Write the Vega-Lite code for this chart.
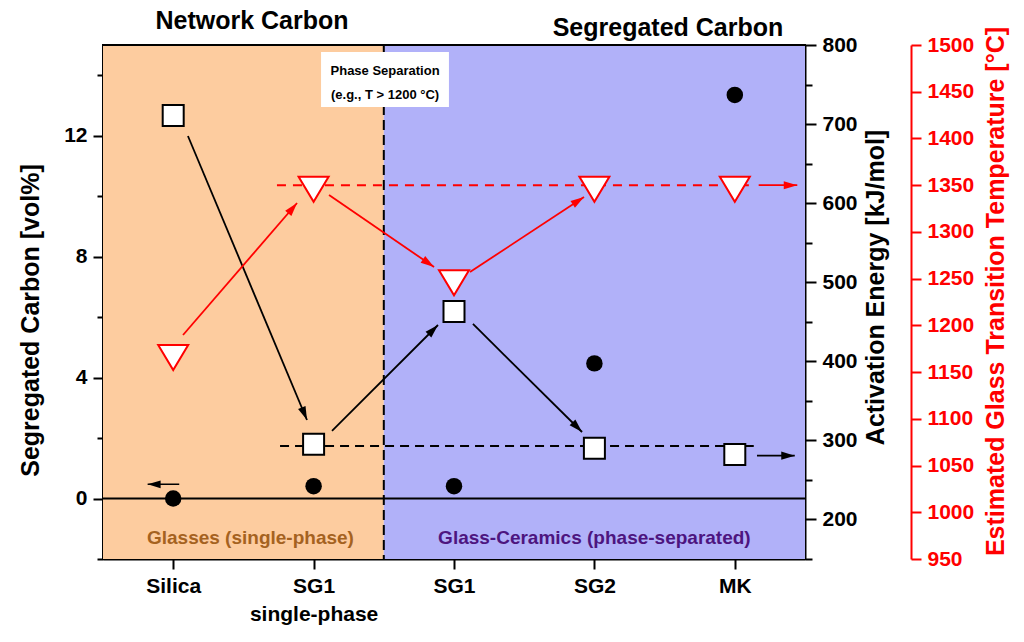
{
  "$schema": "https://vega.github.io/schema/vega-lite/v6.json",
  "autosize": "none",
  "width": 702,
  "height": 514,
  "padding": {"left": 103, "top": 45, "right": 219, "bottom": 83},
  "background": "white",
  "datasets": {
    "samples": [
      {"x": 0, "carbon": 0, "energy": 711, "tg": 1170},
      {"x": 1, "carbon": 0.41, "energy": 295, "tg": 1350},
      {"x": 2, "carbon": 0.41, "energy": 463, "tg": 1250},
      {"x": 3, "carbon": 4.47, "energy": 290, "tg": 1350},
      {"x": 4, "carbon": 13.35, "energy": 282, "tg": 1350}
    ]
  },
  "layer": [
    {
      "layer": [
        {
          "data": {"values": [
            {"x": -0.5, "x2": 1.5, "phase": "glass"},
            {"x": 1.5, "x2": 4.5, "phase": "ceramic"}
          ]},
          "mark": {"type": "rect", "opacity": 1},
          "encoding": {
            "x": {
              "field": "x", "type": "quantitative",
              "scale": {"domain": [-0.5, 4.5], "nice": false, "zero": false},
              "axis": {
                "title": null,
                "values": [0, 1, 2, 3, 4],
                "labelExpr": "datum.value === 0 ? 'Silica' : datum.value === 1 ? ['SG1', 'single-phase'] : datum.value === 2 ? 'SG1' : datum.value === 3 ? 'SG2' : 'MK'",
                "labelOverlap": false,
                "tickSize": 10,
                "labelPadding": 6,
                "labelLineHeight": 28
              }
            },
            "x2": {"field": "x2"},
            "color": {
              "field": "phase", "type": "nominal",
              "scale": {"domain": ["glass", "ceramic"], "range": ["#FDCC9F", "#B1B1F9"]},
              "legend": null
            }
          }
        },
        {
          "data": {"values": [{"x": 1.5}]},
          "mark": {"type": "rule", "color": "black", "strokeWidth": 2, "strokeDash": [10, 5]},
          "encoding": {"x": {"field": "x", "type": "quantitative"}}
        },
        {
          "data": {"values": [{"v": 0}, {"v": 15}]},
          "mark": {"type": "rule", "color": "black", "strokeWidth": 2},
          "encoding": {
            "y": {
              "field": "v", "type": "quantitative",
              "scale": {"domain": [-2, 15], "nice": false, "zero": false},
              "axis": {
                "orient": "left",
                "title": "Segregated Carbon [vol%]",
                "values": [-2, 0, 2, 4, 6, 8, 10, 12, 14],
                "labelExpr": "datum.value % 4 === 0 ? datum.label : ''",
                "labelOverlap": false,
                "tickSize": {"condition": {"test": "datum.value % 4 === 0", "value": 10}, "value": 6},
                "labelPadding": 6,
                "titlePadding": 20,
                "titleY": 275
              }
            }
          }
        },
        {
          "data": {"values": [{"x": 1.053, "x2": 1.964, "v": 14.77, "v2": 12.95}]},
          "mark": {"type": "rect", "color": "white"},
          "encoding": {
            "x": {"field": "x", "type": "quantitative"},
            "x2": {"field": "x2"},
            "y": {"field": "v", "type": "quantitative"},
            "y2": {"field": "v2"}
          }
        },
        {
          "data": {"values": [
            {"x": 1.509, "v": 14.0, "t": "Phase Separation"},
            {"x": 1.509, "v": 13.21, "t": "(e.g., T > 1200 °C)"}
          ]},
          "mark": {"type": "text", "font": "Liberation Sans", "fontWeight": "bold", "fontSize": 13, "color": "black", "baseline": "alphabetic", "align": "center"},
          "encoding": {
            "x": {"field": "x", "type": "quantitative"},
            "y": {"field": "v", "type": "quantitative"},
            "text": {"field": "t"}
          }
        },
        {
          "data": {"values": [
            {"x": 0.561, "v": 15.52, "t": "Network Carbon"},
            {"x": 3.524, "v": 15.3, "t": "Segregated Carbon"}
          ]},
          "mark": {"type": "text", "font": "Liberation Sans", "fontWeight": "bold", "fontSize": 25, "color": "black", "baseline": "alphabetic", "align": "center"},
          "encoding": {
            "x": {"field": "x", "type": "quantitative"},
            "y": {"field": "v", "type": "quantitative"},
            "text": {"field": "t"}
          }
        },
        {
          "data": {"values": [{"x": 0.55, "v": -1.5, "t": "Glasses (single-phase)"}]},
          "mark": {"type": "text", "font": "Liberation Sans", "fontWeight": "bold", "fontSize": 19, "color": "#A5621F", "baseline": "alphabetic", "align": "center"},
          "encoding": {
            "x": {"field": "x", "type": "quantitative"},
            "y": {"field": "v", "type": "quantitative"},
            "text": {"field": "t"}
          }
        },
        {
          "data": {"values": [{"x": 3.0, "v": -1.5, "t": "Glass-Ceramics (phase-separated)"}]},
          "mark": {"type": "text", "font": "Liberation Sans", "fontWeight": "bold", "fontSize": 19, "color": "#4D1580", "baseline": "alphabetic", "align": "center"},
          "encoding": {
            "x": {"field": "x", "type": "quantitative"},
            "y": {"field": "v", "type": "quantitative"},
            "text": {"field": "t"}
          }
        },
        {
          "data": {"values": [{"x": 0.043, "x2": -0.182, "v": 0.47}]},
          "mark": {"type": "rule", "color": "black", "strokeWidth": 1.5},
          "encoding": {
            "x": {"field": "x", "type": "quantitative"},
            "x2": {"field": "x2"},
            "y": {"field": "v", "type": "quantitative"}
          }
        },
        {
          "data": {"values": [{"x": -0.182, "v": 0.47, "a": 270}]},
          "mark": {"type": "point", "shape": "M0,0L-0.3,1L0.3,1Z", "filled": true, "color": "black", "opacity": 1, "size": 676},
          "encoding": {
            "x": {"field": "x", "type": "quantitative"},
            "y": {"field": "v", "type": "quantitative"},
            "angle": {"field": "a", "type": "quantitative", "scale": null}
          }
        },
        {
          "data": {"name": "samples"},
          "mark": {"type": "point", "shape": "circle", "filled": true, "color": "black", "opacity": 1, "size": 272},
          "encoding": {
            "x": {"field": "x", "type": "quantitative"},
            "y": {"field": "carbon", "type": "quantitative"}
          }
        }
      ]
    },
    {
      "data": {"values": [{"m": 150}]},
      "mark": {"type": "rule", "opacity": 0},
      "encoding": {
        "y": {
          "field": "m", "type": "quantitative",
          "scale": {"domain": [150, 800], "nice": false, "zero": false},
          "axis": {
            "orient": "right",
            "title": null,
            "values": [150, 250, 350, 450, 550, 650, 750],
            "labels": false,
            "domain": false,
            "tickSize": 7
          }
        }
      }
    },
    {
      "layer": [
        {
          "data": {"values": [{"x": 0.761, "x2": 4.135, "energyv": 293}]},
          "mark": {"type": "rule", "color": "black", "strokeWidth": 2, "strokeDash": [9, 6]},
          "encoding": {
            "x": {"field": "x", "type": "quantitative"},
            "x2": {"field": "x2"},
            "y": {
              "field": "energyv", "type": "quantitative",
              "scale": {"domain": [150, 800], "nice": false, "zero": false},
              "axis": {
                "orient": "right",
                "title": "Activation Energy [kJ/mol]",
                "titleAngle": 270,
                "titleBaseline": "top",
                "values": [200, 300, 400, 500, 600, 700, 800],
                "labelOverlap": false,
                "tickSize": 11,
                "labelPadding": 6,
                "titlePadding": 6,
                "titleY": 242
              }
            }
          }
        },
        {
          "data": {"values": [
            {"x": 0.105, "energyv": 684.9, "x2": 0.953, "energyv2": 325.8},
            {"x": 1.131, "energyv": 311.9, "x2": 1.886, "energyv2": 445.9},
            {"x": 2.135, "energyv": 447.2, "x2": 2.912, "energyv2": 310.6},
            {"x": 4.158, "energyv": 280.7, "x2": 4.427, "energyv2": 280.7}
          ]},
          "mark": {"type": "rule", "color": "black", "strokeWidth": 1.8},
          "encoding": {
            "x": {"field": "x", "type": "quantitative"},
            "x2": {"field": "x2"},
            "y": {"field": "energyv", "type": "quantitative"},
            "y2": {"field": "energyv2"}
          }
        },
        {
          "data": {"values": [
            {"x": 0.953, "energyv": 325.8, "a": 157.3},
            {"x": 1.886, "energyv": 445.9, "a": 45},
            {"x": 2.912, "energyv": 310.6, "a": 135},
            {"x": 4.427, "energyv": 280.7, "a": 90}
          ]},
          "mark": {"type": "point", "shape": "M0,0L-0.3,1L0.3,1Z", "filled": true, "color": "black", "opacity": 1, "size": 729},
          "encoding": {
            "x": {"field": "x", "type": "quantitative"},
            "y": {"field": "energyv", "type": "quantitative"},
            "angle": {"field": "a", "type": "quantitative", "scale": null}
          }
        },
        {
          "data": {"name": "samples"},
          "mark": {"type": "point", "shape": "square", "filled": true, "fill": "white", "stroke": "black", "strokeWidth": 2, "opacity": 1, "size": 441},
          "encoding": {
            "x": {"field": "x", "type": "quantitative"},
            "y": {"field": "energy", "type": "quantitative"}
          }
        }
      ]
    },
    {
      "layer": [
        {
          "data": {"values": [{"x": 0.739, "x2": 4.1, "t": 1350}]},
          "mark": {"type": "rule", "color": "#FF0000", "strokeWidth": 2, "strokeDash": [9, 7]},
          "encoding": {
            "x": {"field": "x", "type": "quantitative"},
            "x2": {"field": "x2"},
            "y": {
              "field": "t", "type": "quantitative",
              "scale": {"domain": [950, 1500], "nice": false, "zero": false},
              "axis": {
                "orient": "right",
                "offset": 106,
                "title": "Estimated Glass Transition Temperature [°C]",
                "titleAngle": 270,
                "titleBaseline": "top",
                "format": "d",
                "values": [950, 975, 1000, 1025, 1050, 1075, 1100, 1125, 1150, 1175, 1200, 1225, 1250, 1275, 1300, 1325, 1350, 1375, 1400, 1425, 1450, 1475, 1500],
                "labelExpr": "datum.value % 50 === 0 ? datum.label : ''",
                "labelOverlap": false,
                "tickSize": {"condition": {"test": "datum.value % 50 === 0", "value": 10}, "value": 5},
                "labelPadding": 6,
                "titlePadding": 10,
                "titleY": 246,
                "domainColor": "#FF0000",
                "tickColor": "#FF0000",
                "labelColor": "#FF0000",
                "titleColor": "#FF0000"
              }
            }
          }
        },
        {
          "data": {"values": [
            {"x": 0.07, "t": 1189.7, "x2": 0.882, "t2": 1330.9},
            {"x": 1.11, "t": 1339.5, "x2": 1.858, "t2": 1262.4},
            {"x": 2.114, "t": 1257.1, "x2": 2.926, "t2": 1337.3},
            {"x": 4.17, "t": 1350, "x2": 4.445, "t2": 1350}
          ]},
          "mark": {"type": "rule", "color": "#FF0000", "strokeWidth": 1.8},
          "encoding": {
            "x": {"field": "x", "type": "quantitative"},
            "x2": {"field": "x2"},
            "y": {"field": "t", "type": "quantitative"},
            "y2": {"field": "t2"}
          }
        },
        {
          "data": {"values": [
            {"x": 0.882, "t": 1330.9, "a": 40.5},
            {"x": 1.858, "t": 1262.4, "a": 124.4},
            {"x": 2.926, "t": 1337.3, "a": 56.7},
            {"x": 4.445, "t": 1350, "a": 90}
          ]},
          "mark": {"type": "point", "shape": "M0,0L-0.3,1L0.3,1Z", "filled": true, "color": "#FF0000", "opacity": 1, "size": 729},
          "encoding": {
            "x": {"field": "x", "type": "quantitative"},
            "y": {"field": "t", "type": "quantitative"},
            "angle": {"field": "a", "type": "quantitative", "scale": null}
          }
        },
        {
          "data": {"name": "samples"},
          "mark": {"type": "point", "shape": "M-1,-0.556L1,-0.556L0,1.111Z", "filled": true, "fill": "white", "stroke": "#FF0000", "strokeWidth": 2, "opacity": 1, "size": 900},
          "encoding": {
            "x": {"field": "x", "type": "quantitative"},
            "y": {"field": "tg", "type": "quantitative"}
          }
        }
      ]
    }
  ],
  "resolve": {"scale": {"y": "independent"}},
  "config": {
    "view": {"stroke": "black", "strokeWidth": 2},
    "axis": {
      "grid": false,
      "zindex": 1,
      "domainColor": "black",
      "domainWidth": 2,
      "tickColor": "black",
      "tickWidth": 2,
      "labelFont": "Liberation Sans",
      "labelFontSize": 21,
      "labelFontWeight": "bold",
      "labelColor": "black",
      "titleFont": "Liberation Sans",
      "titleFontSize": 25,
      "titleFontWeight": "bold",
      "titleColor": "black"
    }
  }
}
